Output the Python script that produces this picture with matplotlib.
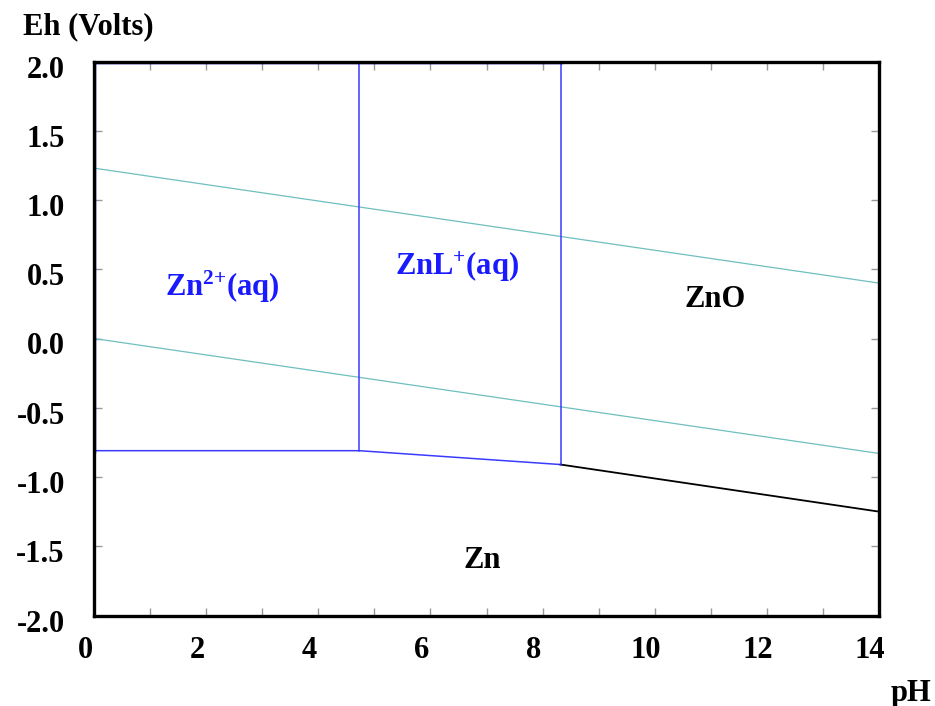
import numpy as np
import matplotlib
matplotlib.use('Agg')
import matplotlib.pyplot as plt
import matplotlib.transforms as mtrans

plt.rcParams['font.family'] = ['Liberation Serif', 'DejaVu Serif']
plt.rcParams['font.weight'] = 'bold'
plt.rcParams['mathtext.fontset'] = 'custom'
plt.rcParams['mathtext.rm'] = 'Liberation Serif:bold'
plt.rcParams['mathtext.bf'] = 'Liberation Serif:bold'
plt.rcParams['mathtext.default'] = 'rm'

# Datos del diagrama de Pourbaix (Zn)
water_ph = [0, 14]
o2_eh = [1.23, 0.40]
h2_eh = [0.00, -0.83]

aq_ph = [0, 4.73, 8.32]
aq_eh = [-0.81, -0.81, -0.91]
zno_ph = [8.32, 14]
zno_eh = [-0.91, -1.25]
vert_ph = [4.73, 8.32]
vert_eh = [-0.81, -0.91]
top_ph = [0, 8.32]

labels = ['Zn$^{2{+}}$(aq)', 'ZnL$^{+}$(aq)', 'ZnO', 'Zn']
lab_ph = [2.28, 6.48, 11.08, 6.93]
lab_eh = [0.37, 0.52, 0.28, -1.60]
lab_clr = ['#1a1aff', '#1a1aff', 'black', 'black']

x_ticks = np.arange(0, 15, 2)
y_ticks = np.arange(-2.0, 2.01, 0.5)

blue = '#3b3bff'
teal = '#6fbfbf'

fig = plt.figure(figsize=(9.35, 7.06), dpi=100)
ax = fig.add_axes([94/935, 1-615.5/706, (879-94)/935, (615.5-61.5)/706])

ax.plot(water_ph, o2_eh, '-', lw=0.9, color=teal)
ax.plot(water_ph, h2_eh, '-', lw=0.9, color=teal)
ax.plot(aq_ph, aq_eh, '-', lw=1.1, color=blue)
ax.plot(zno_ph, zno_eh, '-', lw=1.3, color='black')
for p, e in zip(vert_ph, vert_eh):
    ax.plot([p, p], [e, 2.0], '-', lw=1.1, color=blue)
ax.plot(top_ph, [2.0, 2.0], '-', lw=2.5, color='#0000dd', zorder=3)
ax.plot([0, 0], [aq_eh[0], 2.0], '-', lw=2.5, color='#0000dd', zorder=3)

for s, p, e, c in zip(labels, lab_ph, lab_eh, lab_clr):
    ax.text(p, e, s, color=c, fontsize=22, fontweight='bold', ha='center', va='center')

ax.set_xlim(0, 14)
ax.set_ylim(-2.0, 2.0)
ax.set_xticks(x_ticks)
ax.set_xticks(np.arange(0, 15, 1), minor=True)
ax.set_yticks(y_ticks)
ax.set_xticklabels([f'{v:d}' for v in x_ticks])
ax.set_yticklabels([f'{v:.1f}' for v in y_ticks])
ax.tick_params(which='both', direction='in', top=True, right=True,
               color='#999999', length=6, width=1, labelsize=22)
ax.tick_params(axis='x', pad=15)
ax.tick_params(axis='y', pad=21)
for sp in ax.spines.values():
    sp.set_linewidth(2.4)
    sp.set_zorder(4)

# etiquetas desplazadas como en el original
dx = mtrans.ScaledTranslation(-9/100, 0, fig.dpi_scale_trans)
for lb in ax.get_xticklabels():
    lb.set_transform(lb.get_transform() + dx)
dy = mtrans.ScaledTranslation(0, -5/100, fig.dpi_scale_trans)
for lb in ax.get_yticklabels():
    lb.set_transform(lb.get_transform() + dy)

fig.text(23/935, 1-27/706, 'Eh (Volts)', fontsize=22, fontweight='bold', ha='left', va='center')
fig.text(911/935, 1-693/706, 'pH', fontsize=22, fontweight='bold', ha='center', va='center')

fig.savefig('out.png', dpi=100)
